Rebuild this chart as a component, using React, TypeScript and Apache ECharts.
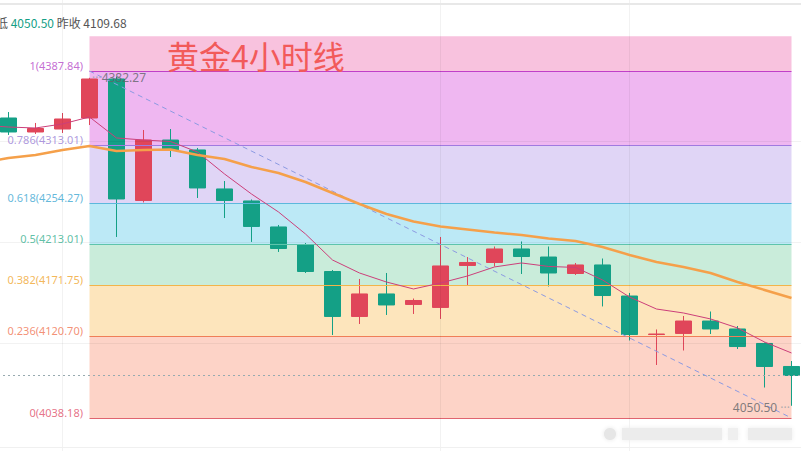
import React, { useEffect, useRef } from 'react';
import * as echarts from 'echarts';

// 4h candles; index 0 is just off the left edge
const categories = ['1','2','3','4','5','6','7','8','9','10','11','12','13','14','15','16','17','18','19','20','21','22','23','24','25','26','27','28','29','30','31'];

const opens = [null, 4340.5, 4326.4, 4329.4, 4340.5, 4379.8, 4257.4, 4318.3, 4308.3, 4269.0, 4256.9, 4230.7, 4213.0, 4185.8, 4140.5, 4163.2, 4152.6, 4149.6, 4191.9, 4194.9, 4208.5, 4200.4, 4183.8, 4192.4, 4161.1, 4122.3, 4123.4, 4135.9, 4127.9, 4113.3, 4090.1];
const closes = [null, 4326.4, 4329.9, 4339.5, 4379.8, 4258.9, 4318.3, 4308.3, 4270.0, 4257.4, 4231.2, 4209.0, 4185.8, 4140.5, 4163.2, 4152.1, 4156.6, 4191.4, 4194.9, 4208.5, 4200.9, 4184.3, 4192.4, 4161.6, 4122.3, 4122.8, 4135.9, 4127.9, 4110.2, 4090.1, 4081.0];
const lows = [null, 4323.4, 4324.4, 4325.4, 4333.4, 4220.6, 4255.4, 4301.2, 4259.9, 4239.7, 4215.6, 4205.5, 4184.3, 4121.8, 4132.9, 4142.0, 4143.0, 4138.0, 4171.2, 4190.9, 4183.3, 4170.7, 4182.3, 4150.6, 4116.3, 4091.6, 4106.2, 4122.8, 4107.7, 4068.9, 4050.5];
const highs = [null, 4346.5, 4335.5, 4345.5, 4381.0, 4382.27, 4328.4, 4329.4, 4310.3, 4277.0, 4258.4, 4232.7, 4214.5, 4187.3, 4178.3, 4184.3, 4158.6, 4220.6, 4200.4, 4211.0, 4216.1, 4211.0, 4194.4, 4198.9, 4164.2, 4127.4, 4141.0, 4145.5, 4130.9, 4114.3, 4095.6];

const maShort = [4333.4, 4331.4, 4330.4, 4334.5, 4341.5, 4320.4, 4318.3, 4316.8, 4306.2, 4284.1, 4263.9, 4245.8, 4223.6, 4197.4, 4184.3, 4175.2, 4168.2, 4174.2, 4181.3, 4190.4, 4194.4, 4190.9, 4189.9, 4177.3, 4160.1, 4148.0, 4144.0, 4138.0, 4128.9, 4114.8, 4103.7];
const maLong = [4295.1, 4300.2, 4303.2, 4308.3, 4312.3, 4307.2, 4308.3, 4308.8, 4303.2, 4299.2, 4291.1, 4285.1, 4276.0, 4264.9, 4253.8, 4243.8, 4236.2, 4231.2, 4228.2, 4225.1, 4222.6, 4219.1, 4216.6, 4210.5, 4202.5, 4195.4, 4190.4, 4184.3, 4175.2, 4167.2, 4159.1];

const fibRatios = ['1', '0.786', '0.618', '0.5', '0.382', '0.236', '0'];
const fibPrices = [4387.84, 4313.01, 4254.27, 4213.01, 4171.75, 4120.70, 4038.18];
const fibTop = 4422.8;
const fibStartIdx = 4;
const fibEndIdx = 30;

const highMark = 4382.27;
const lowMark = 4050.5;
const dayLow = 4050.5;
const prevClose = 4109.68;
const lastPrice = 4081.0;

const gridPrices = [4113.8, 4215.5, 4317.2];
const gridCats = [3, 17, 24];

const zoneColors = ['#f8c2de', '#efb7f1', '#e0d5f6', '#bce9f6', '#c9ecda', '#fde5bc', '#fdd3c7'];
const lineColors = ['#c040c8', '#a07ae0', '#5cb8dc', '#5ec4ac', '#f2b44a', '#f07e58', '#e06470'];
const labelColors = ['#b548c8', '#9a7fd6', '#3ba6d2', '#37b090', '#f0a52e', '#f07452', '#e0506a'];

const UP = '#e0465a';
const DOWN = '#14a086';

// the chart canvas is shifted left so that the first (off-screen) candle sits left of the page
const SHIFT = 32;
const CHART_W = 837;

export default function App() {
  const ref = useRef<HTMLDivElement>(null);
  useEffect(() => {
    const chart = echarts.init(ref.current!, null, { renderer: 'svg' });
    const c0 = categories[fibStartIdx];
    const c1 = categories[fibEndIdx];
    const bounds = [fibTop, ...fibPrices];
    const zones = zoneColors.map((col, i) => [
      { xAxis: c0, yAxis: bounds[i], itemStyle: { color: col } },
      { xAxis: c1, yAxis: bounds[i + 1] },
    ]);
    const levelLines = fibPrices.map((p, i) => [
      { coord: [c0, p], lineStyle: { color: lineColors[i], width: 1, type: 'solid' } },
      { coord: [c1, p] },
    ]);
    const candleData = categories.map((_, i) =>
      opens[i] == null ? '-' : [opens[i], closes[i], lows[i], highs[i]]
    );
    const font = '"Noto Sans", "Noto Sans CJK SC", sans-serif';
    const X = (x: number) => x + SHIFT;
    const option: any = {
      animation: false,
      backgroundColor: '#ffffff',
      textStyle: { fontFamily: font },
      grid: { left: 0, right: 0, top: 0, bottom: 0 },
      xAxis: { type: 'category', data: categories, show: false, boundaryGap: true },
      yAxis: { type: 'value', min: 4004.93, max: 4459.4, show: false, scale: true },
      graphic: [
        { type: 'rect', shape: { x: X(0), y: 3, width: 801, height: 2 }, style: { fill: '#e8e8e8' }, z: 100 },
        {
          type: 'text', x: X(-4), y: 22, z: 100,
          style: {
            text: `{a|低 }{g|${dayLow.toFixed(2)}}{a| 昨收 ${prevClose.toFixed(2)}}`,
            verticalAlign: 'middle',
            rich: {
              a: { fill: '#555', fontSize: 12, fontFamily: '"Noto Sans CJK SC", sans-serif' },
              g: { fill: DOWN, fontSize: 12, fontFamily: '"Noto Sans CJK SC", sans-serif' },
            },
          },
        },
        {
          type: 'text', x: X(167), y: 39, z: 100,
          style: { text: '黄金4小时线', fill: '#f25a5a', fontSize: 32, fontFamily: '"Noto Sans CJK SC", sans-serif' },
        },
        { type: 'rect', shape: { x: X(0), y: 447, width: 801, height: 1 }, style: { fill: '#f0f0f0' }, z: 100 },
        { type: 'circle', shape: { cx: X(610), cy: 434, r: 6 }, style: { fill: '#e6e6e6', shadowBlur: 4, shadowColor: '#e6e6e6' }, z: 100 },
        { type: 'rect', shape: { x: X(622), y: 428, width: 100, height: 12 }, style: { fill: '#ececec', shadowBlur: 5, shadowColor: '#ececec' }, z: 100 },
        { type: 'rect', shape: { x: X(728), y: 428, width: 10, height: 12 }, style: { fill: '#efefef', shadowBlur: 5, shadowColor: '#efefef' }, z: 100 },
        { type: 'rect', shape: { x: X(748), y: 428, width: 44, height: 12 }, style: { fill: '#ececec', shadowBlur: 5, shadowColor: '#ececec' }, z: 100 },
      ],
      series: [
        {
          name: 'fibZones', type: 'line', data: [], z: 1, silent: true,
          markArea: { silent: true, data: zones },
          markLine: { silent: true, symbol: ['none', 'none'], label: { show: false }, data: levelLines },
        },
        {
          name: 'gridlines', type: 'line', data: [], z: 2, silent: true,
          markLine: {
            silent: true, symbol: ['none', 'none'], label: { show: false },
            lineStyle: { color: 'rgba(0,0,0,0.05)', width: 1, type: 'solid' },
            data: [
              ...gridPrices.map((p) => ({ yAxis: p })),
              ...gridCats.map((i) => ({ xAxis: categories[i] })),
            ],
          },
        },
        {
          name: 'guides', type: 'line', data: [], z: 3, silent: true,
          markLine: {
            silent: true, symbol: ['none', 'none'], label: { show: false },
            data: [
              [
                { coord: [c0, fibPrices[0]], lineStyle: { color: '#8c9ae2', width: 1, type: [5, 4] } },
                { coord: [c1, fibPrices[fibPrices.length - 1]] },
              ],
              { yAxis: lastPrice, lineStyle: { color: '#97aab0', width: 1, type: [2, 3] } },
            ],
          },
        },
        {
          name: 'K', type: 'candlestick', z: 4, barWidth: 17,
          data: candleData,
          itemStyle: { color: UP, color0: DOWN, borderColor: UP, borderColor0: DOWN, borderWidth: 1 },
        },
        {
          name: 'MA5', type: 'line', z: 5, data: maShort, symbol: 'none', smooth: false,
          lineStyle: { color: '#cc3f7a', width: 1 },
        },
        {
          name: 'MA20', type: 'line', z: 5, data: maLong, symbol: 'none', smooth: false,
          lineStyle: { color: '#f5a04a', width: 2.5 },
        },
        {
          name: 'fibLabels', type: 'scatter', z: 6, symbolSize: 1, silent: true,
          itemStyle: { color: 'rgba(0,0,0,0)' },
          data: fibPrices.map((p, i) => ({
            name: `${fibRatios[i]}(${p.toFixed(2)})`,
            value: [c0, p],
            label: { color: labelColors[i] },
          })),
          label: {
            show: true, position: 'left', distance: 6, offset: [0, -6],
            formatter: '{b}', fontSize: 11, fontFamily: font,
          },
        },
        {
          name: 'hiLo', type: 'scatter', z: 6, symbolSize: 1, silent: true,
          itemStyle: { color: 'rgba(0,0,0,0)' },
          data: [
            {
              value: [categories[fibStartIdx], highMark],
              label: {
                show: true, position: 'right', distance: 2, offset: [0, 1],
                formatter: `{d|···}{t|${highMark.toFixed(2)}}`,
              },
            },
            {
              value: [categories[fibEndIdx], lowMark],
              label: {
                show: true, position: 'left', distance: 1, offset: [0, 2],
                formatter: `{t|${lowMark.toFixed(2)}}{d| ···}`,
              },
            },
          ],
          label: {
            rich: {
              t: { color: '#5f6368', fontSize: 12, fontFamily: font },
              d: { color: '#9aa0a6', fontSize: 12, fontFamily: font },
            },
          },
        },
      ],
    };
    chart.setOption(option);
    return () => chart.dispose();
  }, []);
  return (
    <div style={{ position: 'fixed', left: 0, top: 0, width: 801, height: 451, overflow: 'hidden', background: '#fff' }}>
      <div
        ref={ref}
        style={{ position: 'absolute', left: -SHIFT, top: 0, width: CHART_W, height: 451 }}
      />
    </div>
  );
}
